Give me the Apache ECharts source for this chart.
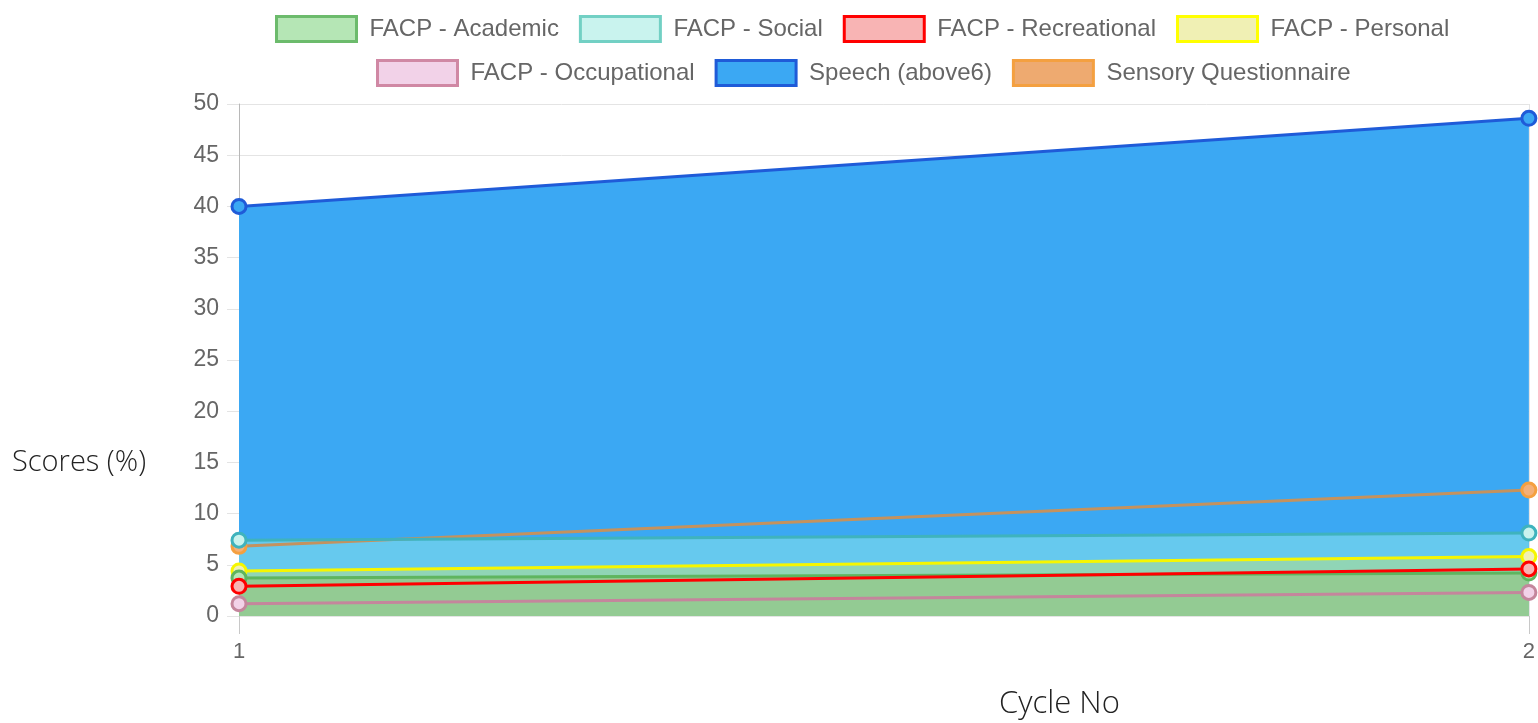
<!DOCTYPE html>
<html>
<head>
<meta charset="utf-8">
<title>Scores by cycle</title>
<script src="https://cdn.jsdelivr.net/npm/echarts@6/dist/echarts.min.js"></script>
<style>
  html, body { margin: 0; padding: 0; background: #fff; }
  #chart { width: 1538px; height: 723px; }
</style>
</head>
<body>
<div id="chart"></div>
<script>
const cycles = ['1', '2']

const academic = [3.7, 4.2]
const social = [7.4, 8.1]
const recreational = [2.9, 4.6]
const personal = [4.4, 5.8]
const occupational = [1.2, 2.3]
const speech = [40, 48.6]
const sensory = [6.8, 12.3]

// legend order as shown on top
const legendRow1 = ['FACP - Academic', 'FACP - Social', 'FACP - Recreational', 'FACP - Personal']
const legendRow2 = ['FACP - Occupational', 'Speech (above6)', 'Sensory Questionnaire']

const FONT = 'Liberation Sans, Arial, Helvetica, sans-serif'

const STYLES = {
  'FACP - Academic': { line: '#5fb55f', point: '#b5e6b5', legendFill: '#b5e6b5', legendBorder: '#6cbb6c', area: '#93cb93' },
  'FACP - Social': { line: '#3fb3bd', point: '#c9f3ee', legendFill: '#c9f3ee', legendBorder: '#72d0c4', area: '#66c9ee' },
  'FACP - Recreational': { line: '#ff0000', point: '#f8b4b4', legendFill: '#f8b4b4', legendBorder: '#ff0000', area: null },
  'FACP - Personal': { line: '#f6f600', point: '#f0f0b4', legendFill: '#f0f0b4', legendBorder: '#ffff00', area: '#90d5b6' },
  'FACP - Occupational': { line: '#c4869c', point: '#f2d2e8', legendFill: '#f2d2e8', legendBorder: '#d088a4', area: null },
  'Speech (above6)': { line: '#1f5bd8', point: '#3ba8f3', legendFill: '#3ba8f3', legendBorder: '#1f5bd8', area: '#3ba8f3' },
  'Sensory Questionnaire': { line: '#c4925e', point: '#f4b078', pointBorder: '#f4a040', legendFill: '#eeaa70', legendBorder: '#f4a040', area: null },
}

// drawing order (bottom to top)
const drawOrder = [
  ['Speech (above6)', speech],
  ['Sensory Questionnaire', sensory],
  ['FACP - Social', social],
  ['FACP - Personal', personal],
  ['FACP - Academic', academic],
  ['FACP - Recreational', recreational],
  ['FACP - Occupational', occupational],
]

function legendItems(names) {
  return names.map(name => ({
    name,
    itemStyle: {
      color: STYLES[name].legendFill,
      borderColor: STYLES[name].legendBorder,
      borderWidth: 3,
    },
  }))
}

const legendCommon = {
  icon: 'rect',
  itemWidth: 80,
  itemHeight: 25,
  itemGap: 20,
  selectedMode: false,
  textStyle: { fontSize: 24, color: '#666', fontFamily: FONT, padding: [0, 0, 0, 8] },
}

const chart = echarts.init(document.getElementById('chart'))

chart.setOption({
  animation: false,
  legend: [
    { ...legendCommon, left: 270, top: 10, data: legendItems(legendRow1) },
    { ...legendCommon, left: 371, top: 54, data: legendItems(legendRow2) },
  ],
  grid: { left: 239, right: 8, top: 104, bottom: 107 },
  xAxis: {
    type: 'category',
    data: cycles,
    boundaryGap: false,
    axisLine: { lineStyle: { color: '#e4e4e4', width: 1 } },
    axisTick: { show: true, length: 18, lineStyle: { color: '#c8c8c8' } },
    axisLabel: { fontSize: 22, color: '#666', fontFamily: FONT, margin: 25 },
    splitLine: { show: true, lineStyle: { color: '#e4e4e4' } },
  },
  yAxis: {
    type: 'value',
    min: 0,
    max: 50,
    interval: 5,
    axisLine: { show: true, lineStyle: { color: '#b8b8b8' } },
    axisTick: { show: true, length: 12, lineStyle: { color: '#e4e4e4' } },
    axisLabel: { fontSize: 23, color: '#666', fontFamily: FONT, margin: 20 },
    splitLine: { lineStyle: { color: '#e4e4e4' } },
  },
  graphic: [
    {
      type: 'text', left: 12, top: 448,
      style: { text: 'Scores (%)', fontSize: 29, fontWeight: 300, fontFamily: 'Open Sans', fill: '#222' },
    },
    {
      type: 'text', left: 999, top: 689,
      style: { text: 'Cycle No', fontSize: 31, fontWeight: 300, fontFamily: 'Open Sans', fill: '#222' },
    },
  ],
  series: drawOrder.map(([name, values]) => {
    const s = STYLES[name]
    return {
      name,
      type: 'line',
      data: values,
      clip: false,
      symbol: 'circle',
      symbolSize: 14,
      showSymbol: true,
      lineStyle: { color: s.line, width: 3 },
      itemStyle: { color: s.point, borderColor: s.pointBorder || s.line, borderWidth: 3 },
      areaStyle: s.area ? { color: s.area, opacity: 1, origin: 'start' } : undefined,
      emphasis: { disabled: true },
    }
  }),
})
</script>
</body>
</html>
